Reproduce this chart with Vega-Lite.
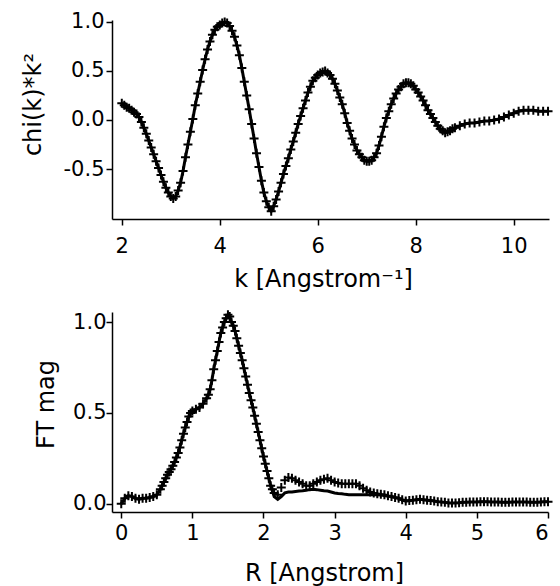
{
  "$schema": "https://vega.github.io/schema/vega-lite/v6.json",
  "background": "white",
  "padding": {"left": 20, "top": 10, "right": 5, "bottom": 5},
  "spacing": 15,
  "config": {
    "font": "DejaVu Sans",
    "view": {"stroke": null},
    "axis": {
      "grid": false,
      "domainColor": "black",
      "domainWidth": 1.5,
      "tickColor": "black",
      "tickWidth": 1.5,
      "tickSize": 6,
      "labelColor": "black",
      "labelFont": "DejaVu Sans",
      "labelFontSize": 21,
      "titleColor": "black",
      "titleFont": "DejaVu Sans",
      "titleFontSize": 24,
      "titleFontWeight": "normal"
    }
  },
  "datasets": {
    "chi": [
      {"k": 2.0, "chi": 0.17}, {"k": 2.05, "chi": 0.15}, {"k": 2.1, "chi": 0.13}, {"k": 2.15, "chi": 0.12}, {"k": 2.2, "chi": 0.1},
      {"k": 2.25, "chi": 0.08}, {"k": 2.3, "chi": 0.06}, {"k": 2.35, "chi": 0.03}, {"k": 2.4, "chi": -0.02}, {"k": 2.45, "chi": -0.08},
      {"k": 2.5, "chi": -0.14}, {"k": 2.55, "chi": -0.21}, {"k": 2.6, "chi": -0.28}, {"k": 2.65, "chi": -0.35},
      {"k": 2.7, "chi": -0.42}, {"k": 2.75, "chi": -0.49}, {"k": 2.8, "chi": -0.56}, {"k": 2.85, "chi": -0.63},
      {"k": 2.9, "chi": -0.69}, {"k": 2.95, "chi": -0.74}, {"k": 3.0, "chi": -0.78},
      {"k": 3.05, "chi": -0.8}, {"k": 3.1, "chi": -0.78}, {"k": 3.15, "chi": -0.72}, {"k": 3.2, "chi": -0.64},
      {"k": 3.25, "chi": -0.52}, {"k": 3.3, "chi": -0.38}, {"k": 3.35, "chi": -0.25},
      {"k": 3.4, "chi": -0.12}, {"k": 3.45, "chi": 0.01}, {"k": 3.5, "chi": 0.15}, {"k": 3.55, "chi": 0.27},
      {"k": 3.6, "chi": 0.39}, {"k": 3.65, "chi": 0.51}, {"k": 3.7, "chi": 0.62}, {"k": 3.75, "chi": 0.72},
      {"k": 3.8, "chi": 0.8}, {"k": 3.85, "chi": 0.87}, {"k": 3.9, "chi": 0.92}, {"k": 3.95, "chi": 0.95},
      {"k": 4.0, "chi": 0.97}, {"k": 4.05, "chi": 0.99}, {"k": 4.1, "chi": 1.0}, {"k": 4.15, "chi": 0.99},
      {"k": 4.2, "chi": 0.96}, {"k": 4.25, "chi": 0.91}, {"k": 4.3, "chi": 0.85}, {"k": 4.35, "chi": 0.76},
      {"k": 4.4, "chi": 0.66}, {"k": 4.45, "chi": 0.53}, {"k": 4.5, "chi": 0.39}, {"k": 4.55, "chi": 0.25},
      {"k": 4.6, "chi": 0.11}, {"k": 4.65, "chi": -0.04}, {"k": 4.7, "chi": -0.19}, {"k": 4.75, "chi": -0.34},
      {"k": 4.8, "chi": -0.48}, {"k": 4.85, "chi": -0.62}, {"k": 4.9, "chi": -0.74}, {"k": 4.95, "chi": -0.83},
      {"k": 5.0, "chi": -0.89}, {"k": 5.05, "chi": -0.93}, {"k": 5.1, "chi": -0.88}, {"k": 5.15, "chi": -0.81},
      {"k": 5.2, "chi": -0.73}, {"k": 5.25, "chi": -0.64},
      {"k": 5.3, "chi": -0.55}, {"k": 5.35, "chi": -0.47}, {"k": 5.4, "chi": -0.39}, {"k": 5.45, "chi": -0.3},
      {"k": 5.5, "chi": -0.22}, {"k": 5.55, "chi": -0.13}, {"k": 5.6, "chi": -0.04}, {"k": 5.65, "chi": 0.04},
      {"k": 5.7, "chi": 0.12}, {"k": 5.75, "chi": 0.2}, {"k": 5.8, "chi": 0.28}, {"k": 5.85, "chi": 0.34},
      {"k": 5.9, "chi": 0.4}, {"k": 5.95, "chi": 0.43}, {"k": 6.0, "chi": 0.46}, {"k": 6.05, "chi": 0.48},
      {"k": 6.1, "chi": 0.49}, {"k": 6.15, "chi": 0.5}, {"k": 6.2, "chi": 0.48}, {"k": 6.25, "chi": 0.46},
      {"k": 6.3, "chi": 0.42}, {"k": 6.35, "chi": 0.37}, {"k": 6.4, "chi": 0.3}, {"k": 6.45, "chi": 0.23},
      {"k": 6.5, "chi": 0.16}, {"k": 6.55, "chi": 0.07}, {"k": 6.6, "chi": -0.03}, {"k": 6.65, "chi": -0.11},
      {"k": 6.7, "chi": -0.19}, {"k": 6.75, "chi": -0.25}, {"k": 6.8, "chi": -0.31}, {"k": 6.85, "chi": -0.35},
      {"k": 6.9, "chi": -0.38}, {"k": 6.95, "chi": -0.41}, {"k": 7.0, "chi": -0.42}, {"k": 7.05, "chi": -0.42},
      {"k": 7.1, "chi": -0.41}, {"k": 7.15, "chi": -0.38}, {"k": 7.2, "chi": -0.34}, {"k": 7.25, "chi": -0.26},
      {"k": 7.3, "chi": -0.17}, {"k": 7.35, "chi": -0.07}, {"k": 7.4, "chi": 0.02}, {"k": 7.45, "chi": 0.09},
      {"k": 7.5, "chi": 0.16}, {"k": 7.55, "chi": 0.22}, {"k": 7.6, "chi": 0.27}, {"k": 7.65, "chi": 0.31},
      {"k": 7.7, "chi": 0.34}, {"k": 7.75, "chi": 0.37}, {"k": 7.8, "chi": 0.38}, {"k": 7.85, "chi": 0.38},
      {"k": 7.9, "chi": 0.37}, {"k": 7.95, "chi": 0.35}, {"k": 8.0, "chi": 0.31}, {"k": 8.05, "chi": 0.28},
      {"k": 8.1, "chi": 0.24}, {"k": 8.15, "chi": 0.2}, {"k": 8.2, "chi": 0.15}, {"k": 8.25, "chi": 0.1},
      {"k": 8.3, "chi": 0.06}, {"k": 8.35, "chi": 0.02}, {"k": 8.4, "chi": -0.02}, {"k": 8.45, "chi": -0.06},
      {"k": 8.5, "chi": -0.09}, {"k": 8.55, "chi": -0.11}, {"k": 8.6, "chi": -0.13}, {"k": 8.65, "chi": -0.12},
      {"k": 8.7, "chi": -0.11}, {"k": 8.75, "chi": -0.09}, {"k": 8.8, "chi": -0.08},
      {"k": 8.9, "chi": -0.06}, {"k": 9.0, "chi": -0.04}, {"k": 9.1, "chi": -0.03}, {"k": 9.2, "chi": -0.03},
      {"k": 9.3, "chi": -0.02}, {"k": 9.4, "chi": -0.01}, {"k": 9.5, "chi": -0.01}, {"k": 9.6, "chi": 0.0},
      {"k": 9.7, "chi": 0.01}, {"k": 9.8, "chi": 0.03}, {"k": 9.9, "chi": 0.05}, {"k": 10.0, "chi": 0.07},
      {"k": 10.1, "chi": 0.09}, {"k": 10.2, "chi": 0.1}, {"k": 10.3, "chi": 0.1}, {"k": 10.4, "chi": 0.1},
      {"k": 10.5, "chi": 0.09}, {"k": 10.6, "chi": 0.09}, {"k": 10.7, "chi": 0.09}
    ],
    "ft": [
      {"r": 0.0, "data": 0.0, "fit": 0.0}, {"r": 0.05, "data": 0.03, "fit": 0.03}, {"r": 0.1, "data": 0.045, "fit": 0.045},
      {"r": 0.15, "data": 0.04, "fit": 0.04}, {"r": 0.2, "data": 0.03, "fit": 0.03}, {"r": 0.25, "data": 0.025, "fit": 0.025},
      {"r": 0.3, "data": 0.03, "fit": 0.03}, {"r": 0.35, "data": 0.03, "fit": 0.03}, {"r": 0.4, "data": 0.035, "fit": 0.035},
      {"r": 0.45, "data": 0.04, "fit": 0.04}, {"r": 0.5, "data": 0.05, "fit": 0.05}, {"r": 0.55, "data": 0.08, "fit": 0.08},
      {"r": 0.575, "data": 0.1, "fit": 0.1},
      {"r": 0.6, "data": 0.12, "fit": 0.12}, {"r": 0.625, "data": 0.14, "fit": 0.14}, {"r": 0.65, "data": 0.16, "fit": 0.16},
      {"r": 0.675, "data": 0.175, "fit": 0.175}, {"r": 0.7, "data": 0.19, "fit": 0.19}, {"r": 0.725, "data": 0.21, "fit": 0.21},
      {"r": 0.75, "data": 0.23, "fit": 0.23}, {"r": 0.775, "data": 0.255, "fit": 0.255}, {"r": 0.8, "data": 0.28, "fit": 0.28},
      {"r": 0.825, "data": 0.31, "fit": 0.31}, {"r": 0.85, "data": 0.35, "fit": 0.35}, {"r": 0.875, "data": 0.385, "fit": 0.385},
      {"r": 0.9, "data": 0.42, "fit": 0.42}, {"r": 0.925, "data": 0.45, "fit": 0.45}, {"r": 0.95, "data": 0.48, "fit": 0.48},
      {"r": 0.975, "data": 0.5, "fit": 0.5}, {"r": 1.0, "data": 0.51, "fit": 0.51},
      {"r": 1.05, "data": 0.52, "fit": 0.52}, {"r": 1.1, "data": 0.53, "fit": 0.53}, {"r": 1.15, "data": 0.55, "fit": 0.55},
      {"r": 1.2, "data": 0.58, "fit": 0.58}, {"r": 1.225, "data": 0.6, "fit": 0.6}, {"r": 1.25, "data": 0.63, "fit": 0.63},
      {"r": 1.275, "data": 0.68, "fit": 0.68}, {"r": 1.3, "data": 0.74, "fit": 0.74}, {"r": 1.325, "data": 0.79, "fit": 0.79},
      {"r": 1.35, "data": 0.84, "fit": 0.84}, {"r": 1.375, "data": 0.89, "fit": 0.89}, {"r": 1.4, "data": 0.94, "fit": 0.94},
      {"r": 1.425, "data": 0.97, "fit": 0.97}, {"r": 1.45, "data": 1.0, "fit": 1.0}, {"r": 1.475, "data": 1.02, "fit": 1.02},
      {"r": 1.5, "data": 1.04, "fit": 1.04}, {"r": 1.525, "data": 1.03, "fit": 1.03}, {"r": 1.55, "data": 1.0, "fit": 1.0},
      {"r": 1.575, "data": 0.98, "fit": 0.98}, {"r": 1.6, "data": 0.95, "fit": 0.95}, {"r": 1.625, "data": 0.91, "fit": 0.91},
      {"r": 1.65, "data": 0.87, "fit": 0.87}, {"r": 1.675, "data": 0.83, "fit": 0.83}, {"r": 1.7, "data": 0.79, "fit": 0.79},
      {"r": 1.725, "data": 0.745, "fit": 0.745}, {"r": 1.75, "data": 0.7, "fit": 0.7}, {"r": 1.775, "data": 0.655, "fit": 0.655},
      {"r": 1.8, "data": 0.61, "fit": 0.61}, {"r": 1.825, "data": 0.57, "fit": 0.57}, {"r": 1.85, "data": 0.53, "fit": 0.53},
      {"r": 1.875, "data": 0.485, "fit": 0.485}, {"r": 1.9, "data": 0.44, "fit": 0.44}, {"r": 1.925, "data": 0.395, "fit": 0.395},
      {"r": 1.95, "data": 0.35, "fit": 0.35}, {"r": 1.975, "data": 0.305, "fit": 0.305}, {"r": 2.0, "data": 0.26, "fit": 0.26},
      {"r": 2.025, "data": 0.22, "fit": 0.22}, {"r": 2.05, "data": 0.18, "fit": 0.18}, {"r": 2.075, "data": 0.14, "fit": 0.14},
      {"r": 2.1, "data": 0.1, "fit": 0.1}, {"r": 2.125, "data": 0.08, "fit": 0.07}, {"r": 2.15, "data": 0.06, "fit": 0.04},
      {"r": 2.2, "data": 0.05, "fit": 0.025},
      {"r": 2.25, "data": 0.09, "fit": 0.04}, {"r": 2.3, "data": 0.13, "fit": 0.06}, {"r": 2.35, "data": 0.145, "fit": 0.065},
      {"r": 2.4, "data": 0.14, "fit": 0.065}, {"r": 2.45, "data": 0.13, "fit": 0.068}, {"r": 2.5, "data": 0.12, "fit": 0.07},
      {"r": 2.55, "data": 0.11, "fit": 0.072}, {"r": 2.6, "data": 0.1, "fit": 0.075}, {"r": 2.65, "data": 0.1, "fit": 0.078},
      {"r": 2.7, "data": 0.11, "fit": 0.08}, {"r": 2.75, "data": 0.12, "fit": 0.078}, {"r": 2.8, "data": 0.13, "fit": 0.075},
      {"r": 2.85, "data": 0.135, "fit": 0.072}, {"r": 2.9, "data": 0.14, "fit": 0.07}, {"r": 2.95, "data": 0.13, "fit": 0.065},
      {"r": 3.0, "data": 0.12, "fit": 0.06}, {"r": 3.05, "data": 0.115, "fit": 0.057}, {"r": 3.1, "data": 0.11, "fit": 0.055},
      {"r": 3.15, "data": 0.11, "fit": 0.052}, {"r": 3.2, "data": 0.11, "fit": 0.05}, {"r": 3.25, "data": 0.11, "fit": 0.05},
      {"r": 3.3, "data": 0.11, "fit": 0.05}, {"r": 3.35, "data": 0.1, "fit": 0.05}, {"r": 3.4, "data": 0.085, "fit": 0.05},
      {"r": 3.45, "data": 0.075, "fit": 0.05}, {"r": 3.5, "data": 0.065, "fit": 0.05}, {"r": 3.55, "data": 0.06, "fit": 0.05},
      {"r": 3.6, "data": 0.055, "fit": 0.05}, {"r": 3.65, "data": 0.052, "fit": 0.048}, {"r": 3.7, "data": 0.05, "fit": 0.045},
      {"r": 3.75, "data": 0.045, "fit": 0.042}, {"r": 3.8, "data": 0.04, "fit": 0.04}, {"r": 3.85, "data": 0.035, "fit": 0.035},
      {"r": 3.9, "data": 0.03, "fit": 0.03}, {"r": 3.95, "data": 0.022, "fit": 0.022}, {"r": 4.0, "data": 0.015, "fit": 0.015},
      {"r": 4.05, "data": 0.018, "fit": 0.018}, {"r": 4.1, "data": 0.02, "fit": 0.02}, {"r": 4.15, "data": 0.023, "fit": 0.023},
      {"r": 4.2, "data": 0.025, "fit": 0.025}, {"r": 4.25, "data": 0.022, "fit": 0.022}, {"r": 4.3, "data": 0.02, "fit": 0.02},
      {"r": 4.35, "data": 0.018, "fit": 0.018}, {"r": 4.4, "data": 0.015, "fit": 0.015}, {"r": 4.45, "data": 0.012, "fit": 0.012},
      {"r": 4.5, "data": 0.01, "fit": 0.01}, {"r": 4.55, "data": 0.008, "fit": 0.008}, {"r": 4.6, "data": 0.005, "fit": 0.005},
      {"r": 4.65, "data": 0.005, "fit": 0.005}, {"r": 4.7, "data": 0.005, "fit": 0.005}, {"r": 4.75, "data": 0.006, "fit": 0.006},
      {"r": 4.8, "data": 0.008, "fit": 0.008}, {"r": 4.85, "data": 0.009, "fit": 0.009}, {"r": 4.9, "data": 0.01, "fit": 0.01},
      {"r": 4.95, "data": 0.01, "fit": 0.01}, {"r": 5.0, "data": 0.01, "fit": 0.01}, {"r": 5.05, "data": 0.011, "fit": 0.011},
      {"r": 5.1, "data": 0.012, "fit": 0.012}, {"r": 5.15, "data": 0.011, "fit": 0.011}, {"r": 5.2, "data": 0.01, "fit": 0.01},
      {"r": 5.25, "data": 0.01, "fit": 0.01}, {"r": 5.3, "data": 0.01, "fit": 0.01}, {"r": 5.35, "data": 0.009, "fit": 0.009},
      {"r": 5.4, "data": 0.008, "fit": 0.008}, {"r": 5.45, "data": 0.009, "fit": 0.009}, {"r": 5.5, "data": 0.01, "fit": 0.01},
      {"r": 5.55, "data": 0.01, "fit": 0.01}, {"r": 5.6, "data": 0.01, "fit": 0.01}, {"r": 5.65, "data": 0.01, "fit": 0.01},
      {"r": 5.7, "data": 0.01, "fit": 0.01}, {"r": 5.75, "data": 0.009, "fit": 0.009}, {"r": 5.8, "data": 0.008, "fit": 0.008},
      {"r": 5.85, "data": 0.009, "fit": 0.009}, {"r": 5.9, "data": 0.01, "fit": 0.01}, {"r": 5.95, "data": 0.011, "fit": 0.011},
      {"r": 6.0, "data": 0.012, "fit": 0.012}
    ]
  },
  "vconcat": [
    {
      "width": 437,
      "height": 199,
      "data": {"name": "chi"},
      "encoding": {
        "x": {
          "field": "k", "type": "quantitative",
          "scale": {"domain": [1.8, 10.72], "nice": false, "zero": false},
          "axis": {"values": [2, 4, 6, 8, 10], "format": "d", "title": "k [Angstrom⁻¹]", "labelPadding": 10,
                   "titleX": 211, "titleY": 67, "titleBaseline": "alphabetic", "titleAlign": "center"}
        },
        "y": {
          "field": "chi", "type": "quantitative",
          "scale": {"domain": [-1.01, 1.02], "nice": false, "zero": false},
          "axis": {"values": [-0.5, 0, 0.5, 1.0], "labelPadding": 2,
                   "labelExpr": "datum.value < 0 ? '-' + format(-datum.value, '.1f') : format(datum.value, '.1f')",
                   "title": "chi(k)*k²", "titleX": -72, "titleY": 84, "titleAngle": -90,
                   "titleBaseline": "alphabetic", "titleAlign": "center"}
        }
      },
      "layer": [
        {"mark": {"type": "line", "color": "black", "strokeWidth": 3}},
        {"mark": {"type": "point", "shape": "M-1,0H1M0,-1V1", "size": 81, "strokeWidth": 2, "color": "black", "filled": false, "opacity": 1}}
      ]
    },
    {
      "width": 436,
      "height": 200,
      "data": {"name": "ft"},
      "encoding": {
        "x": {
          "field": "r", "type": "quantitative",
          "scale": {"domain": [-0.13, 6.0], "nice": false, "zero": false},
          "axis": {"values": [0, 1, 2, 3, 4, 5, 6], "format": "d", "title": "R [Angstrom]", "labelPadding": 4,
                   "titleX": 212, "titleY": 68, "titleBaseline": "alphabetic", "titleAlign": "center"}
        }
      },
      "layer": [
        {"mark": {"type": "line", "color": "black", "strokeWidth": 3},
         "encoding": {"y": {
           "field": "fit", "type": "quantitative",
           "scale": {"domain": [-0.045, 1.055], "nice": false, "zero": false},
           "axis": {"values": [0, 0.5, 1.0], "format": ".1f", "labelPadding": 0,
                    "title": "FT mag", "titleX": -59, "titleY": 92, "titleAngle": -90,
                    "titleBaseline": "alphabetic", "titleAlign": "center"}
         }}},
        {"mark": {"type": "point", "shape": "M-1,0H1M0,-1V1", "size": 81, "strokeWidth": 2, "color": "black", "filled": false, "opacity": 1},
         "encoding": {"y": {"field": "data", "type": "quantitative"}}}
      ]
    }
  ]
}
